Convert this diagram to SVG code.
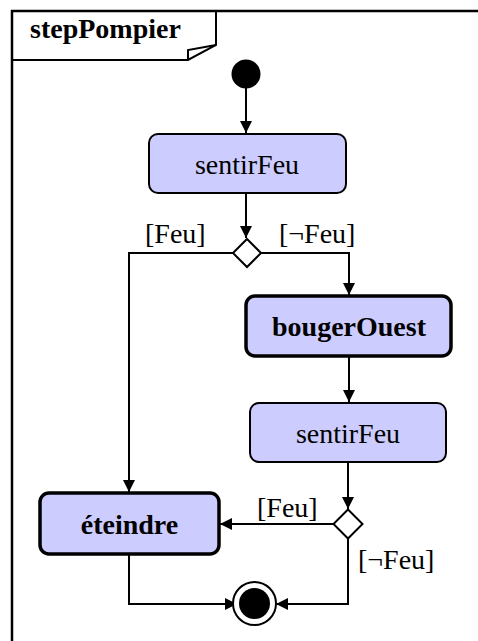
<svg xmlns="http://www.w3.org/2000/svg" width="478" height="641" viewBox="0 0 478 641">
  <defs>
    <marker id="arr" viewBox="0 0 12 12" refX="12" refY="6" markerWidth="12" markerHeight="12" markerUnits="userSpaceOnUse" orient="auto">
      <path d="M0,0 L12,6 L0,12 Z" fill="#000"/>
    </marker>
  </defs>
  <style>
    .txt { font-family: "Liberation Serif", "Times New Roman", serif; font-size: 28px; fill: #000; }
    .b { font-weight: bold; }
    .act { fill: #ccccff; stroke: #000; stroke-width: 2; }
    .actb { fill: #ccccff; stroke: #000; stroke-width: 3.5; }
    .edge { fill: none; stroke: #000; stroke-width: 2; marker-end: url(#arr); }
  </style>
  <rect width="478" height="641" fill="#fff"/>
  <g id="frame">
    <path d="M12,645 L12,11 L482,11" fill="none" stroke="#000" stroke-width="2.5"/>
    <path d="M12,60 L188,60 L216,45 L216,11" fill="none" stroke="#000" stroke-width="2"/>
    <path d="M188,60 L188,50 L216,45" fill="none" stroke="#000" stroke-width="2"/>
    <text class="txt b" x="30" y="38">stepPompier</text>
  </g>
  <g id="connectors">
    <path class="edge" d="M246,88 L246,133"/>
    <path class="edge" d="M246,193 L246,238"/>
    <path class="edge" d="M233,253 L129,253 L129,492"/>
    <path class="edge" d="M261,253 L349,253 L349,295"/>
    <path class="edge" d="M349,356 L349,402"/>
    <path class="edge" d="M348,462 L348,509"/>
    <path class="edge" d="M334,524 L220,524"/>
    <path class="edge" d="M129,555 L129,604 L237,604"/>
    <path class="edge" d="M348,538 L348,604 L276,604"/>
    <text class="txt" x="145" y="243">[Feu]</text>
    <text class="txt" x="279" y="243">[¬Feu]</text>
    <text class="txt" x="257" y="517">[Feu]</text>
    <text class="txt" x="358" y="569">[¬Feu]</text>
  </g>
  <g id="initial">
    <circle cx="246" cy="74" r="14.5" fill="#000"/>
  </g>
  <g id="sentirFeu1">
    <rect class="act" x="149" y="134" width="197" height="59" rx="9"/>
    <text class="txt" x="247" y="174" text-anchor="middle">sentirFeu</text>
  </g>
  <g id="decision1">
    <path d="M247,239 L261,253 L247,267 L233,253 Z" fill="#fff" stroke="#000" stroke-width="2"/>
  </g>
  <g id="bougerOuest">
    <rect class="actb" x="246" y="296" width="205" height="60" rx="9"/>
    <text class="txt b" x="349" y="336" text-anchor="middle">bougerOuest</text>
  </g>
  <g id="sentirFeu2">
    <rect class="act" x="250" y="403" width="196" height="59" rx="9"/>
    <text class="txt" x="348" y="443" text-anchor="middle">sentirFeu</text>
  </g>
  <g id="decision2">
    <path d="M348,509.5 L362.5,524 L348,538.5 L333.5,524 Z" fill="#fff" stroke="#000" stroke-width="2"/>
  </g>
  <g id="eteindre">
    <rect class="actb" x="40" y="493" width="179" height="61" rx="9"/>
    <text class="txt b" x="129.5" y="534" text-anchor="middle">éteindre</text>
  </g>
  <g id="final">
    <circle cx="254.5" cy="603.5" r="21.5" fill="#fff" stroke="#000" stroke-width="2"/>
    <circle cx="254.5" cy="603.5" r="15.5" fill="#000"/>
  </g>
</svg>
